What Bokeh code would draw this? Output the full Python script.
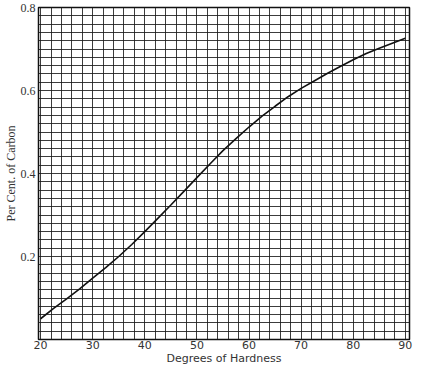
from bokeh.plotting import figure
from bokeh.embed import file_html
from bokeh.resources import INLINE
from bokeh.models import FixedTicker
import numpy as np

hardness = [20, 22.5, 25, 27.5, 30, 32.5, 35, 37.5, 40, 42.5, 45, 47.5, 50, 52.5, 55,
            57.5, 60, 62.5, 65, 67.5, 70, 72.5, 75, 77.5, 80, 82.5, 85, 87.5, 90]
carbon = [0.05, 0.075, 0.098, 0.122, 0.148, 0.173, 0.200, 0.229, 0.260, 0.292, 0.324,
          0.357, 0.390, 0.423, 0.455, 0.484, 0.512, 0.538, 0.562, 0.585, 0.605, 0.623,
          0.641, 0.658, 0.674, 0.689, 0.702, 0.714, 0.726]
x_ticks = [20, 30, 40, 50, 60, 70, 80, 90]
y_ticks = [0.2, 0.4, 0.6, 0.8]

p = figure(width=413, height=367, x_range=(19.6, 90.8), y_range=(0, 0.8),
           output_backend="svg", toolbar_location=None,
           min_border_top=7, min_border_right=4, min_border_left=0, min_border_bottom=0)

p.line(hardness, carbon, line_color="#111111", line_width=1.6)

p.xaxis.ticker = FixedTicker(ticks=x_ticks)
p.yaxis.ticker = FixedTicker(ticks=y_ticks)
p.xgrid.ticker = FixedTicker(ticks=list(np.arange(20, 91, 2)))
p.ygrid.ticker = FixedTicker(ticks=list(np.round(np.arange(0, 0.81, 0.02), 2)))
for g in (p.xgrid, p.ygrid):
    g.grid_line_color = "#1a1a1a"
    g.grid_line_width = 1
    g.grid_line_alpha = 0.85

p.outline_line_color = "#111111"
p.outline_line_width = 1.5

for ax in (p.xaxis, p.yaxis):
    ax.axis_line_color = None
    ax.major_tick_line_color = None
    ax.minor_tick_line_color = None
    ax.major_tick_out = 0
    ax.major_tick_in = 0
    ax.major_label_standoff = 1
    ax.axis_label_standoff = 0
    ax.axis_label_text_font_style = "normal"
    ax.axis_label_text_color = "#333333"
    ax.major_label_text_color = "#333333"

p.xaxis.axis_label = "Degrees of Hardness"
p.xaxis.axis_label_text_font = "DejaVu Sans"
p.xaxis.axis_label_text_font_size = "11px"
p.xaxis.major_label_text_font = "DejaVu Sans"
p.xaxis.major_label_text_font_size = "11px"

p.yaxis.axis_label = "Per Cent. of Carbon"
p.yaxis.axis_label_text_font = "Liberation Serif"
p.yaxis.axis_label_text_font_size = "12px"
p.yaxis.major_label_text_font = "Liberation Serif"
p.yaxis.major_label_text_font_size = "12px"
p.yaxis.major_label_standoff = 3

open("out.html", "w").write(file_html(p, INLINE))
